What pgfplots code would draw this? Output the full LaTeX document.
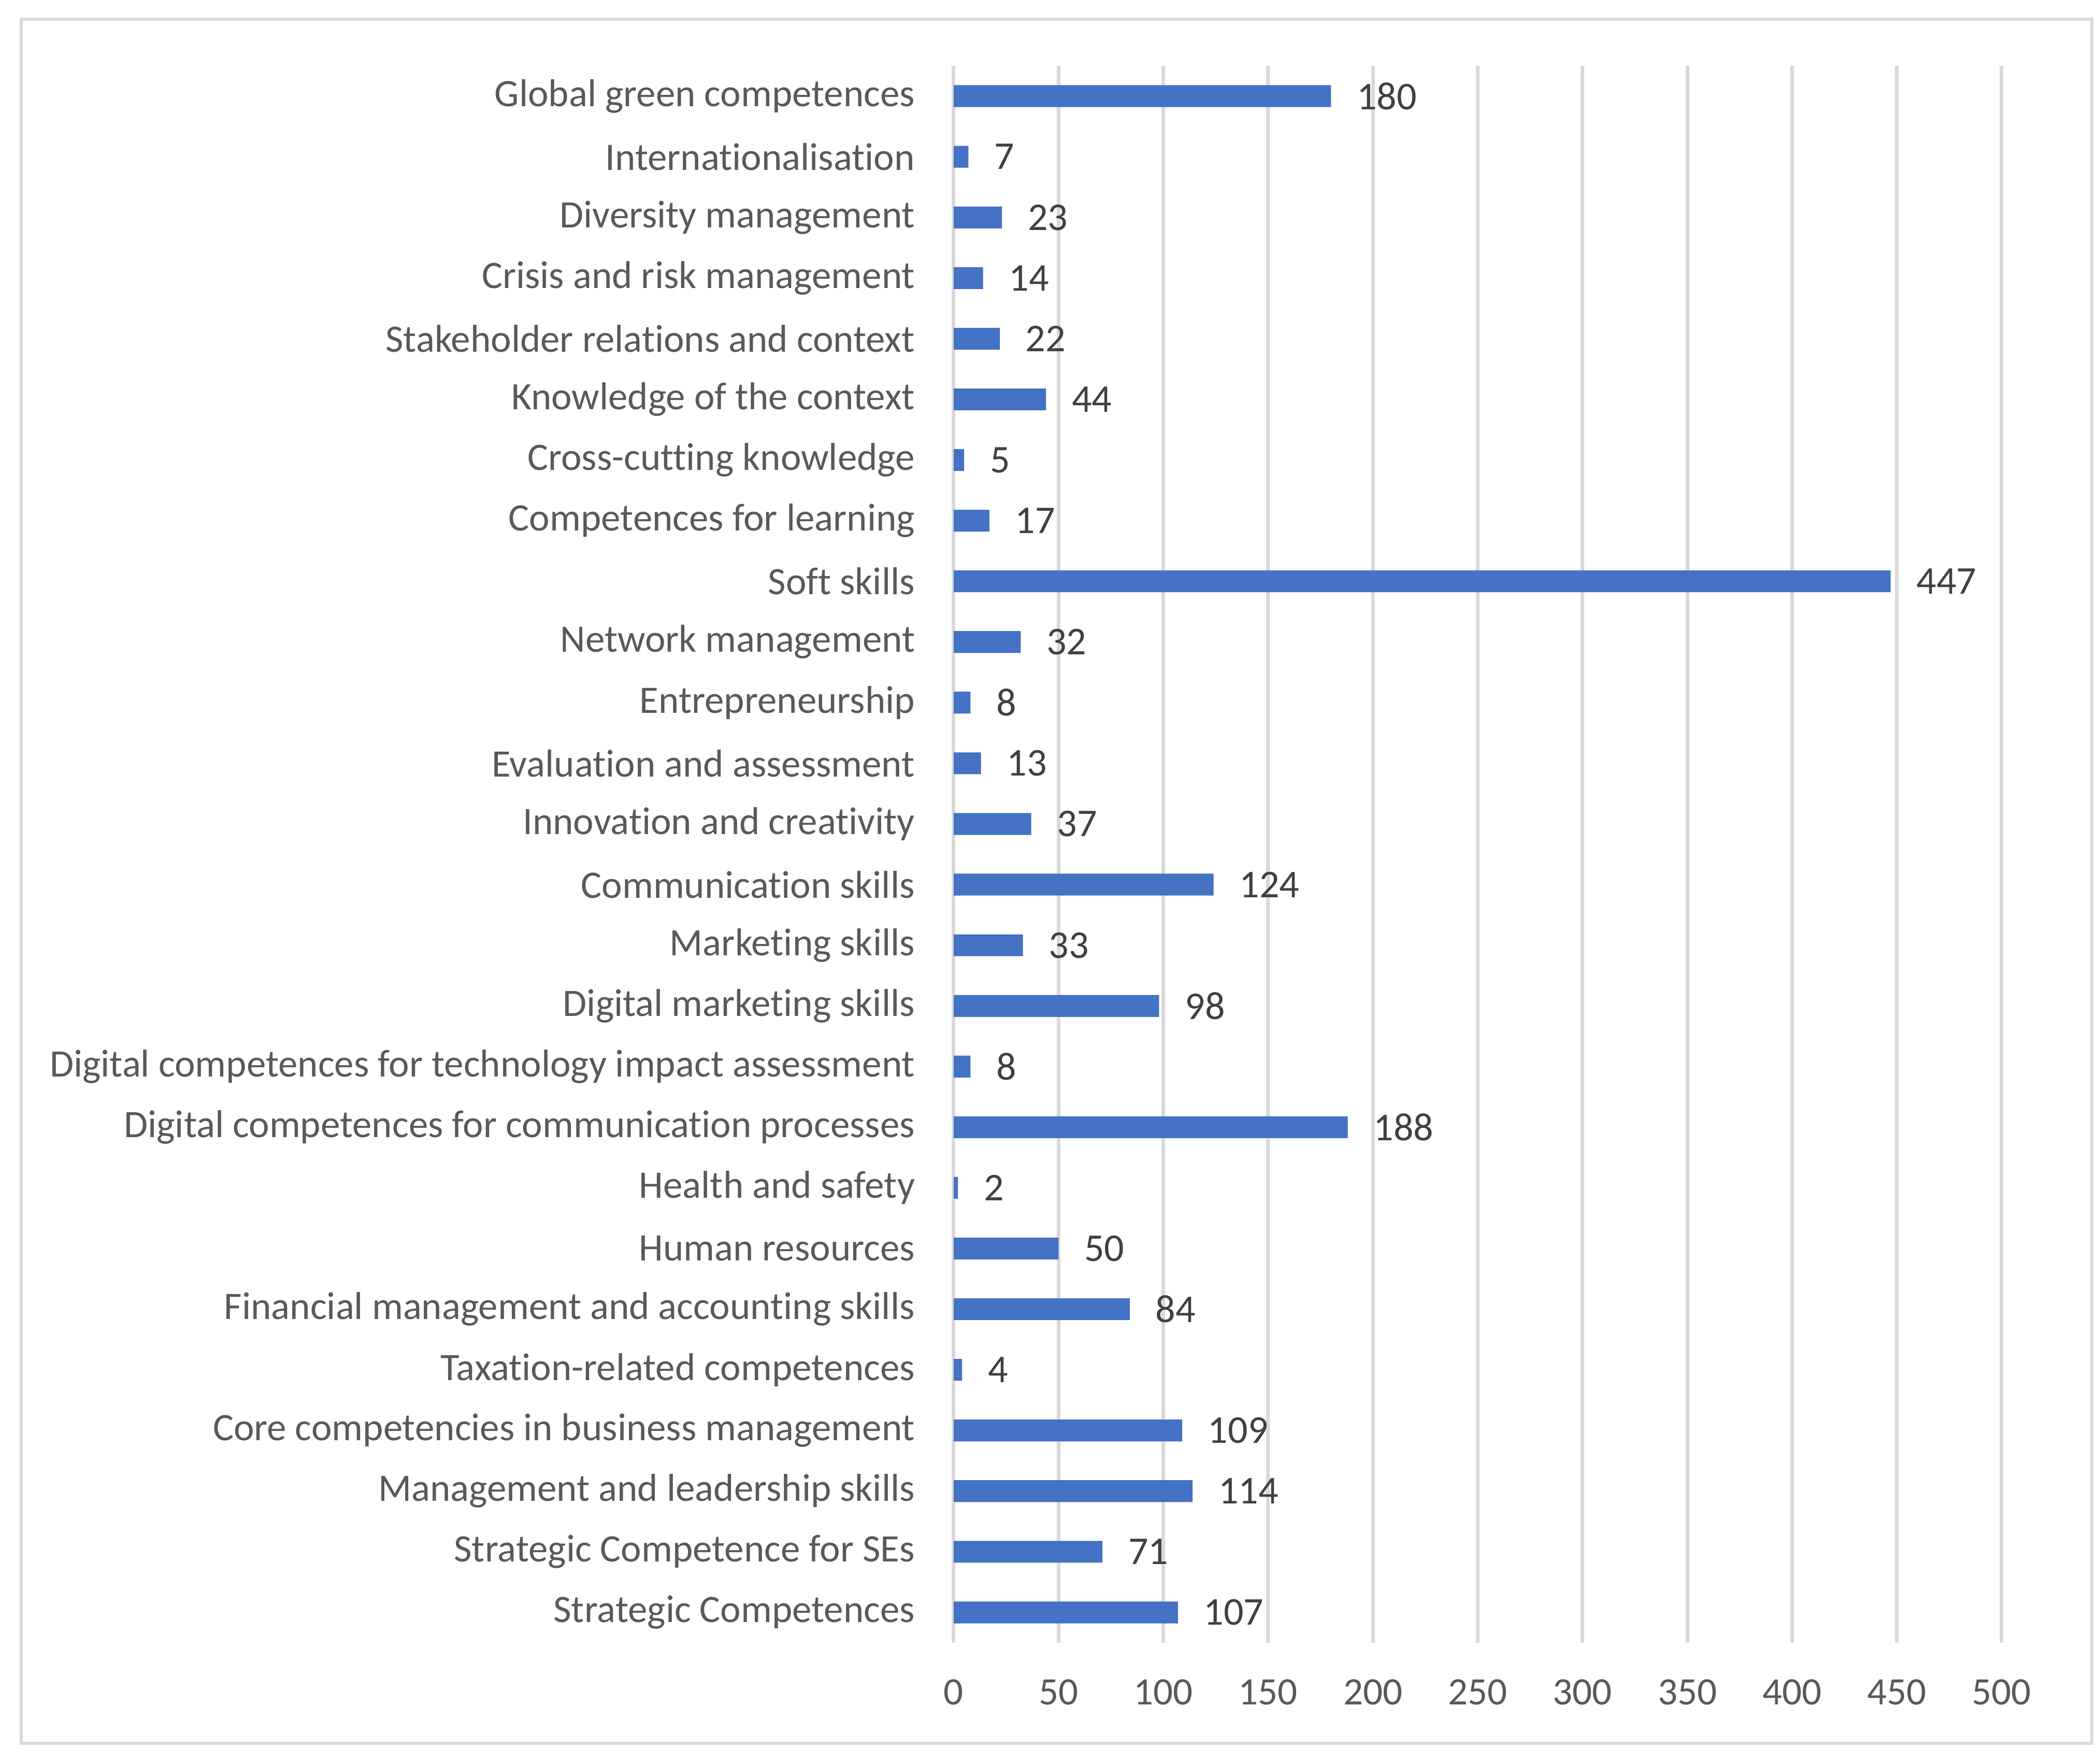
\documentclass[border=0pt]{standalone}
\usepackage{fontspec}
\setmainfont{Carlito}[Ligatures=NoCommon]
\usepackage{pgfplots}
\pgfplotsset{compat=1.18}
\definecolor{barblue}{HTML}{4472C4}
\definecolor{gridgray}{HTML}{D9D9D9}
\definecolor{labgray}{HTML}{595959}
\definecolor{valgray}{HTML}{404040}
\begin{document}
\begin{tikzpicture}
\useasboundingbox (0pt,0pt) rectangle (404.6pt,340.4pt);
\draw[gridgray, line width=0.6pt] (4.1pt,3.9pt) rectangle (403.8pt,336.7pt);
\begin{axis}[
  at={(184.1pt,23.3pt)}, anchor=south west,
  scale only axis, width=202.3pt, height=304.4pt,
  xbar, bar width=0.36,
  xmin=0, xmax=500, ymin=-0.5, ymax=25.5,
  xtick={0,50,...,500},
  ytick={0,...,25},
  yticklabels={Strategic Competences, Strategic Competence for SEs, Management and leadership skills, Core competencies in business management, Taxation-related competences, Financial management and accounting skills, Human resources, Health and safety, Digital competences for communication processes, Digital competences for technology impact assessment, Digital marketing skills, Marketing skills, Communication skills, Innovation and creativity, Evaluation and assessment, Entrepreneurship, Network management, Soft skills, Competences for learning, Cross-cutting knowledge, Knowledge of the context, Stakeholder relations and context, Crisis and risk management, Diversity management, Internationalisation, Global green competences},
  axis line style={draw=none},
  major tick length=0pt,
  xmajorgrids, ymajorgrids=false,
  grid style={gridgray, line width=0.7pt},
  /pgf/number format/assume math mode=true,
  tick label style={font=\fontsize{7.5}{9}\selectfont, text=labgray},
  xticklabel style={anchor=center, inner sep=0pt, yshift=-9.5pt},
  yticklabel style={anchor=east, inner sep=0pt, xshift=-7.3pt},
  point meta=x,
  nodes near coords,
  nodes near coords style={anchor=west, inner sep=0pt, xshift=4.8pt, font=\fontsize{7.6}{9}\selectfont, text=valgray},
]
\addplot[fill=barblue, draw=none] coordinates {
(107,0) (71,1) (114,2) (109,3) (4,4) (84,5) (50,6) (2,7) (188,8) (8,9) (98,10) (33,11) (124,12) (37,13) (13,14) (8,15) (32,16) (447,17) (17,18) (5,19) (44,20) (22,21) (14,22) (23,23) (7,24) (180,25)
};
\end{axis}
\end{tikzpicture}
\end{document}
